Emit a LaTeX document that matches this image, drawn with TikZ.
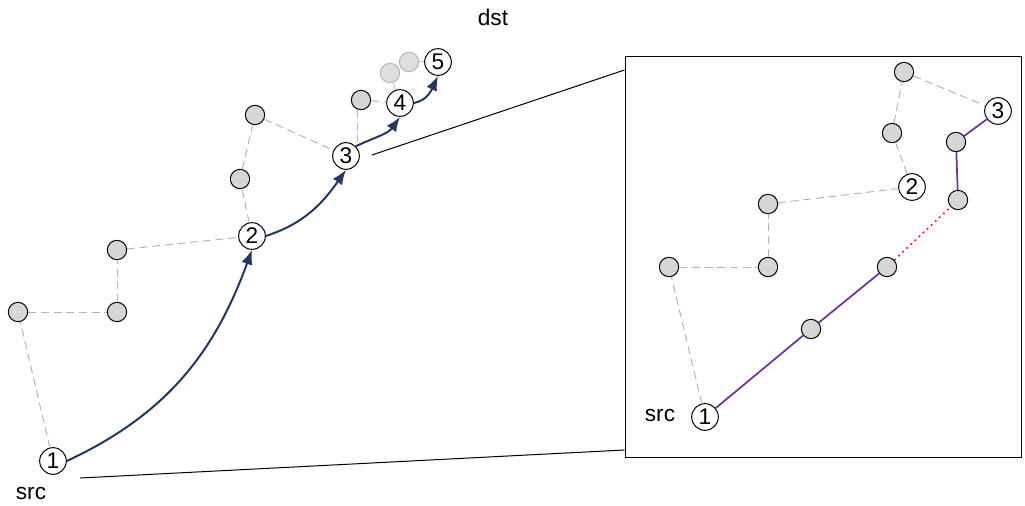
\documentclass[tikz,border=0pt]{standalone}
\usepackage{fontspec}
\setmainfont{Liberation Sans}
\usetikzlibrary{arrows.meta}
\definecolor{pathblue}{HTML}{1F3864}
\definecolor{hoppurple}{HTML}{7030A0}
\definecolor{dotfill}{HTML}{D6D6D6}
\definecolor{linkgray}{HTML}{B4B4B4}
\tikzset{
  x=0.75pt, y=-0.75pt,
  every node/.style={font=\fontsize{17}{20}\selectfont},
  peer/.style={circle, draw=black, fill=dotfill, line width=0.75pt, minimum size=14.5pt, inner sep=0pt},
  faded/.style={circle, draw=linkgray, fill=dotfill!80, line width=0.75pt, minimum size=14.5pt, inner sep=0pt},
  hop/.style={circle, draw=black, fill=white, line width=0.75pt, minimum size=20pt, inner sep=0pt},
  link/.style={draw=linkgray, line width=0.75pt, dash pattern=on 6pt off 3.5pt},
  fadedlink/.style={draw=linkgray!70, line width=0.75pt},
  route/.style={draw=pathblue, line width=1.5pt, -{Latex[length=11pt,width=8.5pt]}},
  chosen/.style={draw=hoppurple, line width=1.3pt},
  gap/.style={draw=red, line width=1.2pt, dash pattern=on 1.2pt off 3pt},
  zoomline/.style={draw=black, line width=0.75pt},
}
\begin{document}
\begin{tikzpicture}
\useasboundingbox (0,0) rectangle (1025,506);

% ---------- overview ----------
\node[hop]  (a1) at (53,461) {1};
\node[peer] (p1) at (18,312) {};
\node[peer] (p2) at (117,312) {};
\node[peer] (p3) at (117,250) {};
\node[hop]  (a2) at (252,236) {2};
\node[peer] (p4) at (240,179) {};
\node[peer] (p5) at (255,115) {};
\node[hop]  (a3) at (346,156) {3};
\node[peer] (p6) at (361,100) {};
\node[hop]  (a4) at (400,103) {4};
\node[faded] (f1) at (390,73) {};
\node[faded] (f2) at (409,62) {};
\node[hop]  (a5) at (438,62) {5};

\draw[link] (a1) -- (p1);
\draw[link] (p1) -- (p2);
\draw[link] (p2) -- (p3);
\draw[link] (p3) -- (a2);
\draw[link] (a2) -- (p4);
\draw[link] (p4) -- (p5);
\draw[link] (p5) -- (a3);
\draw[link] ([xshift=-3]p6.south) coordinate (p6s) -- (p6s |- a3.north);
\draw[link] (p6) -- (a4);
\draw[fadedlink] (a4) -- (f1);
\draw[fadedlink] (f2) -- (a5);

\draw[route] (a1.east) to[out=25,in=-110] (a2.south);
\draw[route] (a2.east) to[out=18,in=-125] (a3.south);
\draw[route] (a3.north east) to[out=25,in=-125] (a4.south);
\draw[route] (a4.east) to[out=10,in=-115] (a5.south);

\node (src) at (31,494) {src};
\node (dst) at (493,17) {dst};

% ---------- magnified view ----------
\node[draw=black, line width=0.75pt, minimum width=297pt, minimum height=300pt, inner sep=0pt] (box) at (823,257) {};
\coordinate (zs1) at (372,155);
\coordinate (zs2) at (80,478);
\draw[zoomline] (zs1) -- (box.north west |- 0,70);
\draw[zoomline] (zs2) -- (box.north west |- 0,450);

\node[hop]  (b1) at (705,417) {1};
\node (bsrc) at (660,416) {src};
\node[peer] (q1) at (669,267) {};
\node[peer] (q2) at (768,267) {};
\node[peer] (q3) at (768,204) {};
\node[hop]  (b2) at (912,187) {2};
\node[peer] (q4) at (892,133) {};
\node[peer] (q5) at (904,72) {};
\node[hop]  (b3) at (998,111) {3};
\node[peer] (q6) at (956,142) {};
\node[peer] (q7) at (958,200) {};
\node[peer] (q8) at (887,267) {};
\node[peer] (q9) at (811,329) {};

\draw[link] (b1) -- (q1);
\draw[link] (q1) -- (q2);
\draw[link] (q2) -- (q3);
\draw[link] (q3) -- (b2);
\draw[link] (b2) -- (q4);
\draw[link] (q4) -- (q5);
\draw[link] (q5) -- (b3);

\draw[chosen] (b1) -- (q9);
\draw[chosen] (q9) -- (q8);
\draw[gap] (q8) -- (q7);
\draw[chosen] (q7) -- (q6);
\draw[chosen] (q6) -- (b3);
\end{tikzpicture}
\end{document}
